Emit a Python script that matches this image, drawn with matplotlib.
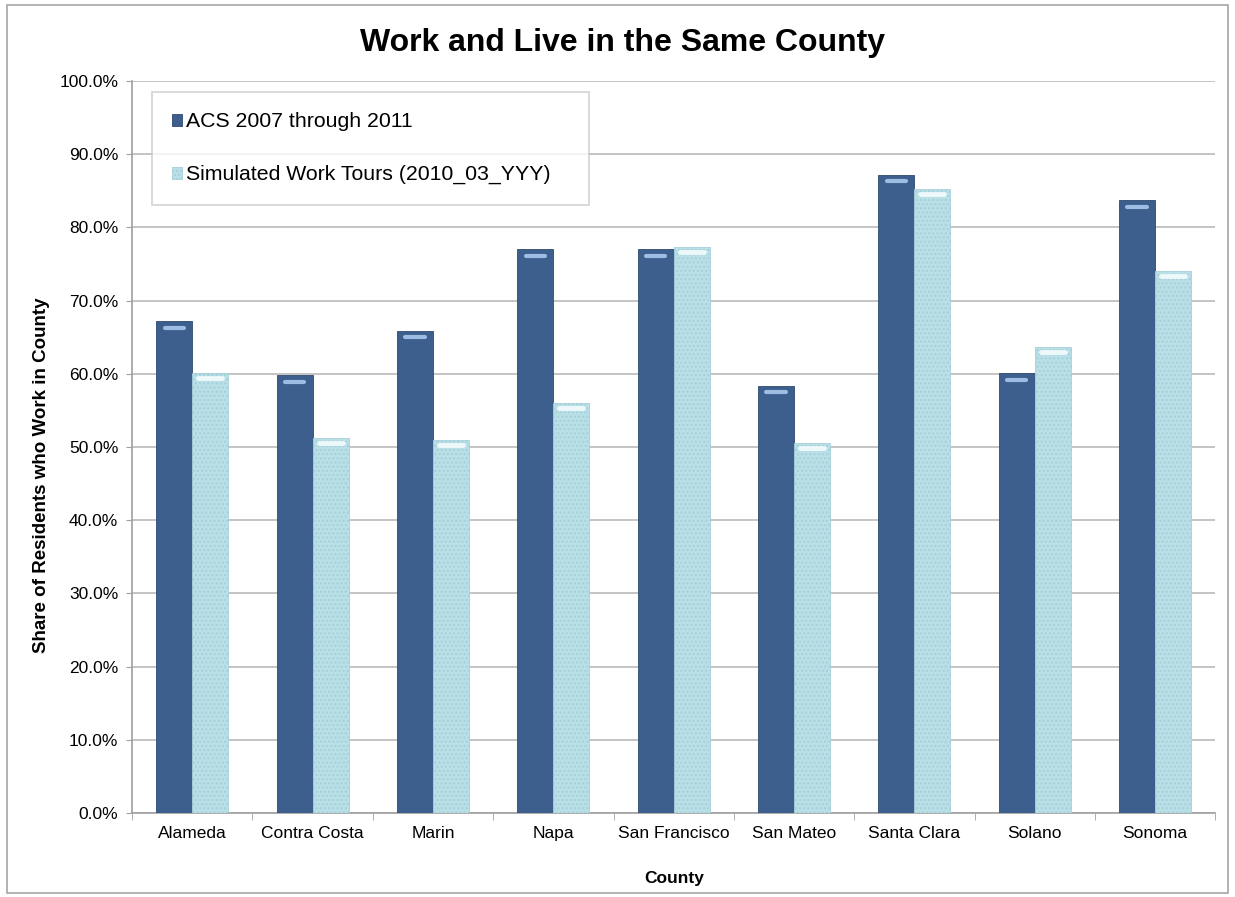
import matplotlib.pyplot as plt
import numpy as np
from matplotlib.patches import Rectangle

counties = ["Alameda", "Contra Costa", "Marin", "Napa", "San Francisco",
            "San Mateo", "Santa Clara", "Solano", "Sonoma"]
acs = [67.2, 59.8, 65.9, 77.0, 77.0, 58.4, 87.2, 60.1, 83.7]
simulated = [60.1, 51.2, 51.0, 56.0, 77.3, 50.6, 85.2, 63.7, 74.0]
y_ticks = [0, 10, 20, 30, 40, 50, 60, 70, 80, 90, 100]

plt.rcParams["font.family"] = ["Liberation Sans", "DejaVu Sans"]

dark = "#3c5f8d"
light = "#b9dfe7"

fig = plt.figure(figsize=(12.35, 8.97), dpi=100)
fig.patches.append(Rectangle((0.006, 0.004), 0.988, 0.99, transform=fig.transFigure,
                             fill=False, edgecolor="#a6a6a6", linewidth=1.2))
ax = fig.add_axes([0.107, 0.0936, 0.877, 0.8161])

x = np.arange(len(counties))
w = 0.3
ax.bar(x - w / 2, acs, w, color=dark, edgecolor="#2e4a70", linewidth=0.6,
       label="ACS 2007 through 2011", zorder=3)
ax.bar(x + w / 2, simulated, w, color=light, edgecolor="#a6d0da", linewidth=0.6,
       hatch="....", label="Simulated Work Tours (2010_03_YYY)", zorder=3)

# little highlight at the top of each bar
for xi, v in zip(x, acs):
    ax.plot([xi - w + 0.07, xi - 0.07], [v - 0.9, v - 0.9],
            color="#9dbde3", linewidth=3, solid_capstyle="round", zorder=4)
for xi, v in zip(x, simulated):
    ax.plot([xi + 0.05, xi + w - 0.05], [v - 0.7, v - 0.7],
            color="#ecf8fa", linewidth=3.5, solid_capstyle="round", zorder=4)

ax.set_xlim(-0.5, len(counties) - 0.5)
ax.set_ylim(0, 100)
ax.set_yticks(y_ticks)
ax.set_yticklabels([f"{t:.1f}%" for t in y_ticks], fontsize=12.5)
ax.set_xticks(x)
ax.set_xticklabels(counties, fontsize=12.5)
ax.set_xticks(np.arange(-0.5, len(counties)), minor=True)
ax.tick_params(axis="x", which="major", length=0, pad=9)
ax.tick_params(axis="x", which="minor", length=5, color="#a0a0a0", direction="out")
ax.tick_params(axis="y", length=4, color="#a0a0a0", pad=6)

ax.grid(axis="y", color="#b4b4b4", linewidth=1.1, zorder=0)
for s in ["top", "right"]:
    ax.spines[s].set_visible(False)
ax.spines["left"].set_color("#a0a0a0")
ax.spines["bottom"].set_color("#a0a0a0")
ax.spines["left"].set_linewidth(1.2)
ax.spines["bottom"].set_linewidth(1.2)

fig.text(0.504, 0.952, "Work and Live in the Same County", ha="center", va="center",
         fontsize=23, fontweight="bold")
ax.set_xlabel("County", fontsize=12.5, fontweight="bold", labelpad=22)
fig.text(0.034, 0.47, "Share of Residents who Work in County", rotation=90,
         ha="center", va="center", fontsize=13.5, fontweight="bold")

leg = ax.legend(loc="upper left", bbox_to_anchor=(0.018, 0.2, 0.404, 0.785), mode="expand",
                fontsize=15.3, frameon=True, fancybox=False, edgecolor="#c8c8c8",
                borderpad=0.95, labelspacing=1.6, handlelength=0.5, handleheight=0.5,
                handletextpad=0.15, borderaxespad=0)
leg.get_frame().set_linewidth(1.2)
leg.set_zorder(5)

fig.savefig("out.png", dpi=100)
